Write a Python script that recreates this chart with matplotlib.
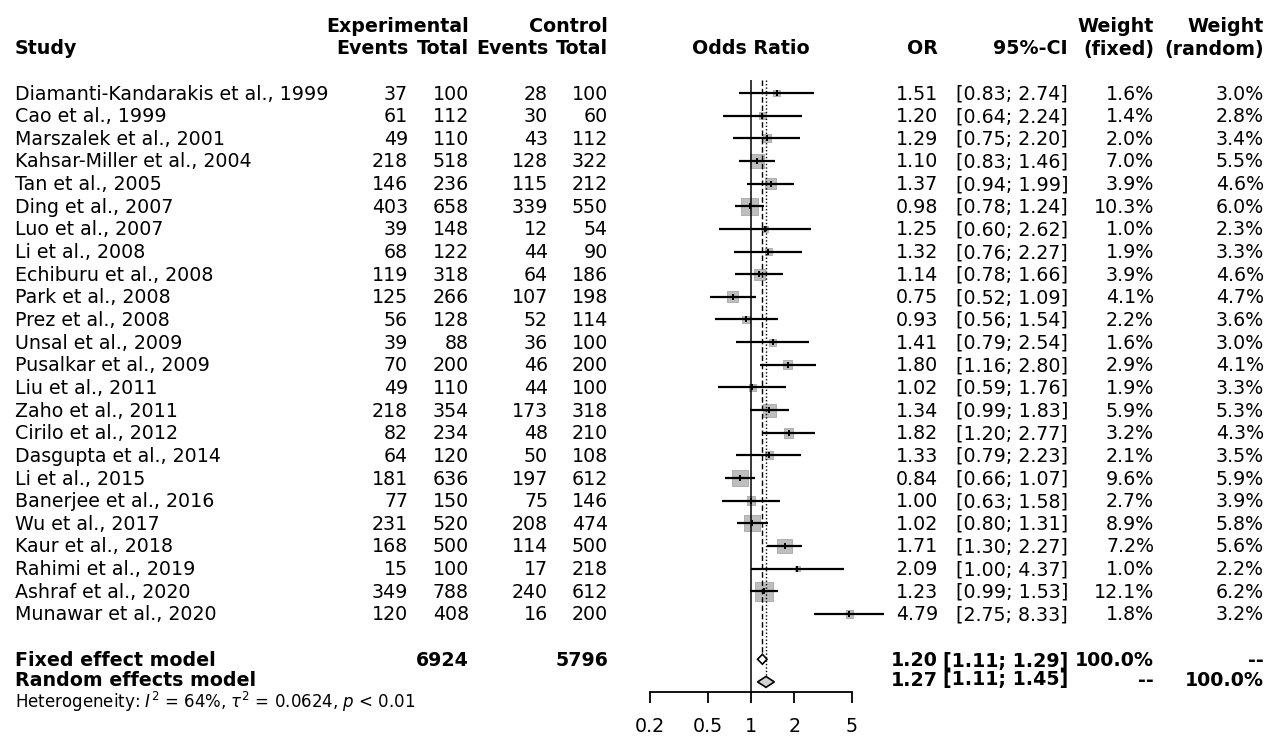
import matplotlib
matplotlib.use('Agg')
import matplotlib.pyplot as plt
from matplotlib.ticker import FixedLocator, NullLocator
from matplotlib.patches import Polygon

# data
studies = ['Diamanti-Kandarakis et al., 1999', 'Cao et al., 1999', 'Marszalek et al., 2001',
           'Kahsar-Miller et al., 2004', 'Tan et al., 2005', 'Ding et al., 2007', 'Luo et al., 2007',
           'Li et al., 2008', 'Echiburu et al., 2008', 'Park et al., 2008', 'Prez et al., 2008',
           'Unsal et al., 2009', 'Pusalkar et al., 2009', 'Liu et al., 2011', 'Zaho et al., 2011',
           'Cirilo et al., 2012', 'Dasgupta et al., 2014', 'Li et al., 2015', 'Banerjee et al., 2016',
           'Wu et al., 2017', 'Kaur et al., 2018', 'Rahimi et al., 2019', 'Ashraf et al., 2020',
           'Munawar et al., 2020']
exp_events = [37, 61, 49, 218, 146, 403, 39, 68, 119, 125, 56, 39, 70, 49, 218, 82, 64, 181, 77, 231, 168, 15, 349, 120]
exp_total = [100, 112, 110, 518, 236, 658, 148, 122, 318, 266, 128, 88, 200, 110, 354, 234, 120, 636, 150, 520, 500, 100, 788, 408]
ctrl_events = [28, 30, 43, 128, 115, 339, 12, 44, 64, 107, 52, 36, 46, 44, 173, 48, 50, 197, 75, 208, 114, 17, 240, 16]
ctrl_total = [100, 60, 112, 322, 212, 550, 54, 90, 186, 198, 114, 100, 200, 100, 318, 210, 108, 612, 146, 474, 500, 218, 612, 200]
odds = [1.51, 1.20, 1.29, 1.10, 1.37, 0.98, 1.25, 1.32, 1.14, 0.75, 0.93, 1.41, 1.80, 1.02, 1.34, 1.82, 1.33, 0.84, 1.00, 1.02, 1.71, 2.09, 1.23, 4.79]
ci_lo = [0.83, 0.64, 0.75, 0.83, 0.94, 0.78, 0.60, 0.76, 0.78, 0.52, 0.56, 0.79, 1.16, 0.59, 0.99, 1.20, 0.79, 0.66, 0.63, 0.80, 1.30, 1.00, 0.99, 2.75]
ci_hi = [2.74, 2.24, 2.20, 1.46, 1.99, 1.24, 2.62, 2.27, 1.66, 1.09, 1.54, 2.54, 2.80, 1.76, 1.83, 2.77, 2.23, 1.07, 1.58, 1.31, 2.27, 4.37, 1.53, 8.33]
w_fixed = [1.6, 1.4, 2.0, 7.0, 3.9, 10.3, 1.0, 1.9, 3.9, 4.1, 2.2, 1.6, 2.9, 1.9, 5.9, 3.2, 2.1, 9.6, 2.7, 8.9, 7.2, 1.0, 12.1, 1.8]
w_random = [3.0, 2.8, 3.4, 5.5, 4.6, 6.0, 2.3, 3.3, 4.6, 4.7, 3.6, 3.0, 4.1, 3.3, 5.3, 4.3, 3.5, 5.9, 3.9, 5.8, 5.6, 2.2, 6.2, 3.2]

total_exp = 6924
total_ctrl = 5796
fixed_or, fixed_lo, fixed_hi = 1.20, 1.11, 1.29
random_or, random_lo, random_hi = 1.27, 1.11, 1.45
xticks = [0.2, 0.5, 1, 2, 5]

W, H = 1264, 736
Y0, DY = 93, 22.65   # pixel centre of first row, row spacing


def row(py):
    return (py - Y0) / DY


fs = 13.7
plt.rcParams['font.family'] = 'DejaVu Sans'
fig = plt.figure(figsize=(W / 100, H / 100), dpi=100)

# text layer: x in pixels, y in row units
tx = fig.add_axes([0, 0, 1, 1])
tx.set_xlim(0, W)
tx.set_ylim(row(H), row(0))
tx.axis('off')

# column anchors (right edges)
c_study = 15
c_ee, c_et, c_ce, c_ct = 408, 469, 548, 608
c_or, c_ci, c_wf, c_wr = 938, 1068, 1154, 1264

BASE = 6.5 / DY   # baseline sits ~half a cap height below the row centre


def put(x, y, s, ha='right', bold=False, size=fs):
    tx.text(x, y + BASE * size / fs, s, ha=ha, va='baseline', fontsize=size,
            fontweight='bold' if bold else 'normal')


h1, h2 = row(25), row(48)
put(c_et, h1, 'Experimental', bold=True)
put(c_ct, h1, 'Control', bold=True)
put(c_wf, h1, 'Weight', bold=True)
put(c_wr, h1, 'Weight', bold=True)
put(c_study, h2, 'Study', ha='left', bold=True)
put(c_ee, h2, 'Events', bold=True)
put(c_et, h2, 'Total', bold=True)
put(c_ce, h2, 'Events', bold=True)
put(c_ct, h2, 'Total', bold=True)
put(751, h2, 'Odds Ratio', ha='center', bold=True)
put(c_or, h2, 'OR', bold=True)
put(c_ci, h2, '95%-CI', bold=True)
put(c_wf, h2, '(fixed)', bold=True)
put(c_wr, h2, '(random)', bold=True)

for i, name in enumerate(studies):
    put(c_study, i, name, ha='left')
    put(c_ee, i, str(exp_events[i]))
    put(c_et, i, str(exp_total[i]))
    put(c_ce, i, str(ctrl_events[i]))
    put(c_ct, i, str(ctrl_total[i]))
    put(c_or, i, f'{odds[i]:.2f}')
    put(c_ci, i, f'[{ci_lo[i]:.2f}; {ci_hi[i]:.2f}]')
    put(c_wf, i, f'{w_fixed[i]:.1f}%')
    put(c_wr, i, f'{w_random[i]:.1f}%')

fr = len(studies) + 1
rr = len(studies) + 2
ty_f, ty_r = row(660), row(679)
put(c_study, ty_f, 'Fixed effect model', ha='left', bold=True)
put(c_et, ty_f, str(total_exp), bold=True)
put(c_ct, ty_f, str(total_ctrl), bold=True)
put(c_or, ty_f, f'{fixed_or:.2f}', bold=True)
put(c_ci, ty_f, f'[{fixed_lo:.2f}; {fixed_hi:.2f}]', bold=True)
put(c_wf, ty_f, '100.0%', bold=True)
put(c_wr, ty_f, '--', bold=True)
put(c_study, ty_r, 'Random effects model', ha='left', bold=True)
put(c_or, ty_r, f'{random_or:.2f}', bold=True)
put(c_ci, ty_r, f'[{random_lo:.2f}; {random_hi:.2f}]', bold=True)
put(c_wf, ty_r, '--', bold=True)
put(c_wr, ty_r, '100.0%', bold=True)
put(c_study, row(702), r'Heterogeneity: $I^2$ = 64%, $\tau^2$ = 0.0624, $p$ < 0.01',
    ha='left', size=12)

# forest panel
top_px, axis_px = 80, 692
ax = fig.add_axes([650 / W, 1 - axis_px / H, (852 - 650) / W, (axis_px - top_px) / H])
ax.set_xscale('log')
ax.set_xlim(0.2, 5)
ax.set_ylim(row(axis_px), row(top_px))
ax.patch.set_visible(False)
for s in ['top', 'left', 'right']:
    ax.spines[s].set_visible(False)
ax.spines['bottom'].set_linewidth(1.3)
ax.xaxis.set_major_locator(FixedLocator(xticks))
ax.xaxis.set_minor_locator(NullLocator())
ax.set_xticklabels([f'{t:g}' for t in xticks])
ax.tick_params(axis='x', direction='out', length=8, width=1.3, pad=10, labelsize=fs)
ax.set_yticks([])

ax.axvline(1, color='black', lw=1.1, zorder=3)
ax.vlines(fixed_or, row(top_px), fr - 0.25, colors='black', lw=1.0,
          linestyles=(0, (4, 2)), zorder=3)
ax.vlines(random_or, row(top_px), rr - 0.27, colors='black', lw=1.0,
          linestyles=(0, (1, 1.5)), zorder=3)

ys = list(range(len(studies)))
ax.scatter(odds, ys, s=[15.06 * w for w in w_fixed], marker='s', color='#bebebe',
           edgecolors='#a8a8a8', linewidths=0.6, zorder=2, clip_on=False)
ax.hlines(ys, ci_lo, ci_hi, colors='black', lw=1.6, zorder=4, clip_on=False)
ax.plot(odds, ys, linestyle='none', marker='|', markersize=5, mew=1.4,
        color='black', zorder=5, clip_on=False)

for est, lo, hi, y, hh, fc in [(fixed_or, fixed_lo, fixed_hi, fr, 0.22, 'white'),
                              (random_or, random_lo, random_hi, rr, 0.24, '#d3d3d3')]:
    ax.add_patch(Polygon([(lo, y), (est, y - hh), (hi, y), (est, y + hh)], closed=True,
                         facecolor=fc, edgecolor='black', lw=1.2, zorder=6, clip_on=False))

fig.savefig('out.png', dpi=100)
